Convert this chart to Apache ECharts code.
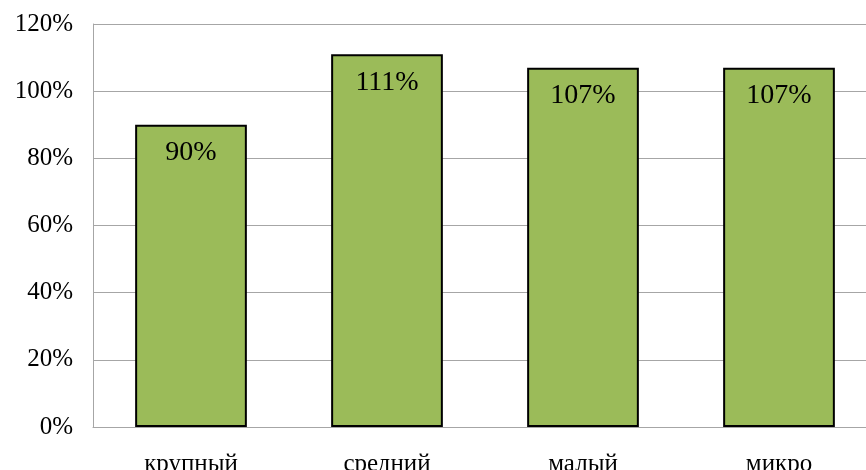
<!DOCTYPE html>
<html>
<head>
<meta charset="utf-8">
<script src="https://cdn.jsdelivr.net/npm/echarts@6/dist/echarts.min.js"></script>
<style>
  html, body { margin: 0; padding: 0; background: #fff; }
  #chart { width: 866px; height: 470px; }
</style>
</head>
<body>
<div id="chart"></div>
<script>
const categories = ['крупный', 'средний', 'малый', 'микро'];
const values = [90, 111, 107, 107];
const yTicks = [0, 20, 40, 60, 80, 100, 120];

const FONT = '"Liberation Serif", "Times New Roman", serif';
const GRID_COLOR = '#a6a6a6';

const chart = echarts.init(document.getElementById('chart'), null, { renderer: 'canvas' });

chart.setOption({
    animation: false,
    // the plot runs a little past the right edge of the picture
    grid: { left: 93, width: 784, top: 24, bottom: 43, outerBoundsMode: 'none', containLabel: false },
    xAxis: {
        type: 'category',
        data: categories,
        axisLine: { lineStyle: { color: GRID_COLOR, width: 1 } },
        axisTick: { show: false },
        axisLabel: { color: '#000', fontFamily: FONT, fontSize: 25, margin: 25 }
    },
    yAxis: {
        type: 'value',
        min: yTicks[0],
        max: yTicks[yTicks.length - 1],
        interval: 20,
        axisLine: { show: true, lineStyle: { color: GRID_COLOR, width: 1 } },
        axisTick: { show: false },
        splitLine: { lineStyle: { color: GRID_COLOR, width: 1 } },
        axisLabel: {
            color: '#000', fontFamily: FONT, fontSize: 25, margin: 20,
            formatter: v => v + '%'
        }
    },
    series: [{
        type: 'bar',
        data: values,
        barWidth: '57%',
        itemStyle: { color: '#9bbb59', borderColor: '#000', borderWidth: 2 },
        label: {
            show: true,
            position: 'insideTop',
            distance: 14,
            color: '#000',
            fontFamily: FONT,
            fontSize: 28,
            formatter: p => p.value + '%'
        }
    }]
});
</script>
</body>
</html>
